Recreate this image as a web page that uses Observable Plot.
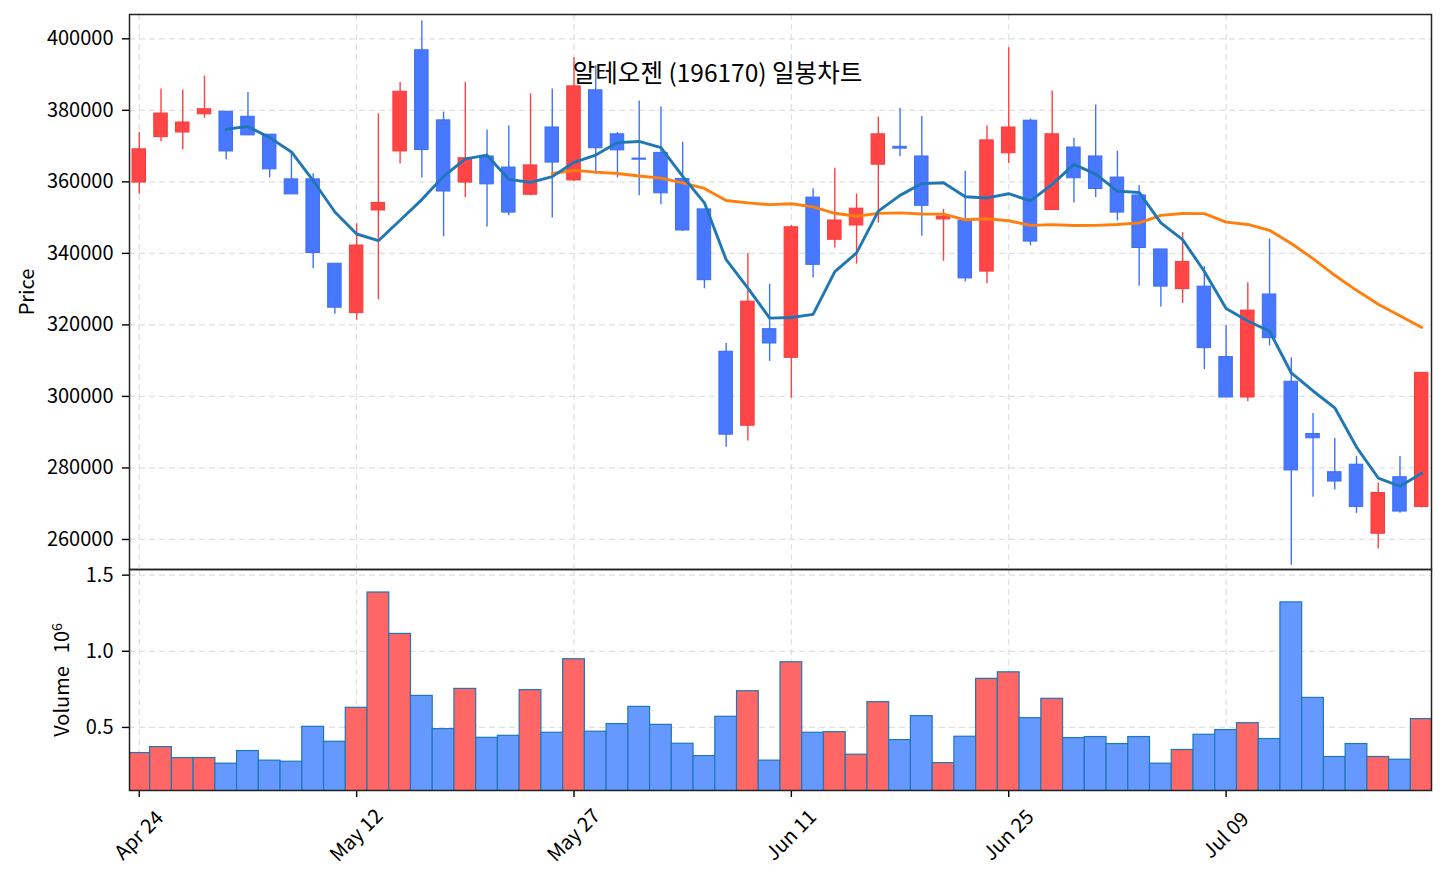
<!DOCTYPE html>
<html>
<head>
<meta charset="utf-8">
<script src="https://cdn.jsdelivr.net/npm/d3@7"></script>
<script src="https://cdn.jsdelivr.net/npm/@observablehq/plot@0.6"></script>
<style>
  html, body { margin: 0; padding: 0; background: #fff; }
  #chart { position: relative; width: 1446px; height: 884px; overflow: hidden; }
  #chart svg { position: absolute; left: 0; }
</style>
</head>
<body>
<div id="chart"></div>
<script>
// ---- data ----
const title = "알테오젠 (196170) 일봉차트";
const tickIndex = [0, 10, 20, 30, 40, 50];
const tickLabels = ["Apr 24", "May 12", "May 27", "Jun 11", "Jun 25", "Jul 09"];
const priceTicks = [260000, 280000, 300000, 320000, 340000, 360000, 380000, 400000];
const volumeTicks = [0.5, 1.0, 1.5];

const opens = [359800, 372500, 373800, 378900, 379600, 378200, 373200, 360700, 360700, 337100,
  323300, 352000, 368500, 396800, 377200, 359800, 367100, 364000, 356400, 375200,
  360400, 385600, 373300, 366500, 368100, 360800, 352300, 312500, 291800, 318800,
  310800, 355600, 343800, 347800, 364800, 369800, 367100, 349500, 349200, 334900,
  368000, 377100, 352100, 369600, 367100, 361200, 356200, 341100, 330000, 330700,
  311000, 299700, 328500, 304100, 289500, 278800, 280900, 261600, 277400, 269100];
const highs = [373800, 386000, 385700, 389600, 379600, 385000, 373200, 368000, 362300, 337100,
  348300, 379000, 387800, 405000, 379500, 387800, 374500, 375600, 384600, 386000,
  394700, 392500, 373800, 382600, 380900, 371100, 352300, 314800, 340000, 331400,
  347800, 358100, 363800, 356600, 378100, 380600, 378300, 352300, 363000, 375600,
  397500, 377600, 385400, 372100, 381500, 368600, 359000, 341100, 345800, 336300,
  319800, 331800, 344000, 310800, 295200, 288200, 283200, 275800, 283200, 306600];
const lows = [356600, 371200, 369000, 377800, 366200, 373000, 361100, 356500, 335800, 323000,
  321300, 327000, 365000, 361100, 344600, 355600, 347400, 350500, 356100, 349900,
  360100, 362100, 361100, 356100, 353600, 346100, 330100, 285800, 287500, 309800,
  299500, 333100, 341500, 337000, 348500, 367000, 344800, 337800, 332000, 331500,
  365100, 342100, 352100, 354100, 355600, 349100, 330800, 325000, 326000, 307500,
  299700, 298500, 314100, 252800, 271800, 273800, 267300, 257300, 267300, 268800];
const closes = [369100, 379100, 376600, 380300, 368500, 373000, 363500, 356500, 340100, 324800,
  342200, 354100, 385200, 368900, 357300, 366600, 359300, 351400, 364600, 365400,
  386700, 369400, 368800, 366200, 356800, 346400, 332500, 289300, 326500, 314800,
  347300, 336800, 349200, 352500, 373300, 369300, 353300, 350300, 333000, 371600,
  375200, 343300, 373300, 361000, 358000, 351400, 341500, 330700, 337600, 313500,
  299700, 324000, 316300, 279300, 288300, 276200, 269100, 273000, 267800, 306600];
const volumes = [332000, 371000, 299000, 299000, 262000, 345000, 282000, 275000, 504000, 406000,
  629000, 1386000, 1114000, 707000, 489000, 753000, 432000, 445000, 745000, 465000,
  948000, 472000, 522000, 635000, 517000, 393000, 312000, 570000, 738000, 282000,
  928000, 465000, 469000, 321000, 666000, 417000, 574000, 266000, 439000, 819000,
  862000, 561000, 688000, 430000, 437000, 391000, 437000, 262000, 352000, 452000,
  483000, 528000, 424000, 1321000, 694000, 306000, 391000, 306000, 288000, 555000];

// ---- table built from the arrays ----
const rows = opens.map((o, i) => ({
  i, open: o, high: highs[i], low: lows[i], close: closes[i],
  volume: volumes[i] / 1e6, up: closes[i] >= o
}));
const ticks = tickIndex.map((i, k) => ({i, label: tickLabels[k]}));

const FONT = "'Noto Sans CJK KR', 'Noto Sans', sans-serif";
const style = {fontFamily: FONT, fontSize: "20px", background: "transparent", overflow: "visible", color: "#000"};
const gridOpts = {stroke: "#e0e0e0", strokeOpacity: 1, strokeDasharray: "6,4", strokeWidth: 1.2};
const xDomain = [-0.45, 59.45];

const pricePlot = Plot.plot({
  width: 1446, height: 570,
  marginTop: 14, marginBottom: 1, marginLeft: 129, marginRight: 15,
  x: {type: "linear", domain: xDomain, axis: null},
  y: {domain: [251600, 406800], axis: null},
  color: {type: "identity"},
  style,
  marks: [
    Plot.gridY(priceTicks, gridOpts),
    Plot.gridX(tickIndex, gridOpts),
    Plot.ruleX(rows, {x: "i", y1: "low", y2: "high",
      stroke: d => d.up ? "#ff4040" : "#3f72ff", strokeWidth: 1.4}),
    Plot.rect(rows, {x1: d => d.i - 0.31, x2: d => d.i + 0.31, y1: "open", y2: "close",
      fill: d => d.up ? "#ff4545" : "#4778ff",
      stroke: d => d.up ? "#f53b3b" : "#3b6df5", strokeWidth: 1}),
    Plot.lineY(rows, Plot.windowY({k: 20, anchor: "end", strict: true, reduce: "mean"},
      {x: "i", y: "close", stroke: "#ff7f0e", strokeWidth: 2.9})),
    Plot.lineY(rows, Plot.windowY({k: 5, anchor: "end", strict: true, reduce: "mean"},
      {x: "i", y: "close", stroke: "#1f77b4", strokeWidth: 2.9})),
    Plot.axisY({ticks: priceTicks, tickSize: 7, tickPadding: 9, tickFormat: d3.format("d"),
      label: null, strokeWidth: 1.4}),
    Plot.frame({stroke: "#222", strokeWidth: 1.5}),
    Plot.text(["Price"], {frameAnchor: "left", dx: -102, rotate: -90,
      textAnchor: "middle", lineAnchor: "middle", fontSize: 20}),
    Plot.text([title], {frameAnchor: "top-left", dx: 588, dy: 60,
      textAnchor: "middle", lineAnchor: "middle", fontSize: 24.5})
  ]
});

const volumePlot = Plot.plot({
  width: 1446, height: 324,
  marginTop: 9, marginBottom: 94, marginLeft: 129, marginRight: 15,
  x: {type: "linear", domain: xDomain, axis: null},
  y: {domain: [0.086, 1.537], axis: null},
  color: {type: "identity"},
  style,
  marks: [
    Plot.gridY(volumeTicks, gridOpts),
    Plot.gridX(tickIndex, gridOpts),
    Plot.rect(rows, {x1: d => d.i - 0.5, x2: d => d.i + 0.5, y1: 0, y2: "volume",
      fill: d => d.up ? "#ff6666" : "#6699ff", stroke: "#1f77b4", strokeWidth: 1.2, clip: true}),
    Plot.axisY({ticks: volumeTicks, tickSize: 7, tickPadding: 9, tickFormat: d3.format(".1f"),
      label: null, strokeWidth: 1.4}),
    Plot.axisX({ticks: tickIndex, tickSize: 7, tickFormat: () => "", label: null, strokeWidth: 1.4}),
    Plot.text(ticks, {x: "i", text: "label", frameAnchor: "bottom", dy: 45, rotate: -45,
      textAnchor: "middle", lineAnchor: "middle", fontSize: 20}),
    Plot.frame({stroke: "#222", strokeWidth: 1.5}),
    Plot.text(["Volume 10"], {frameAnchor: "left", dx: -67, rotate: -90,
      textAnchor: "middle", lineAnchor: "middle", fontSize: 20})
  ]
});

// turn the volume label into "Volume  10^6" with a raised exponent
d3.select(volumePlot).selectAll("text")
  .filter(function() { return this.textContent === "Volume 10"; })
  .each(function() {
    const t = d3.select(this);
    t.text(null);
    t.append("tspan").text("Volume");
    t.append("tspan").attr("dx", 13).text("10");
    t.append("tspan").attr("dy", "-0.5em").attr("font-size", 14).text("6");
  });

const chart = document.getElementById("chart");
pricePlot.style.top = "0px";
volumePlot.style.top = "560px";
chart.appendChild(volumePlot);
chart.appendChild(pricePlot);
</script>
</body>
</html>
